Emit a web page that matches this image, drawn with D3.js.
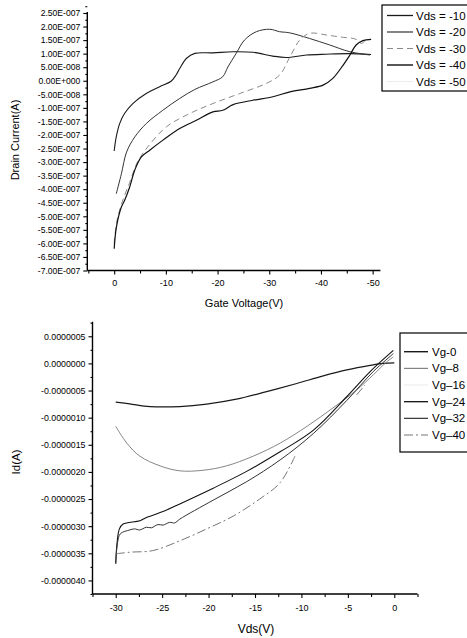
<!DOCTYPE html>
<html>
<head>
<meta charset="utf-8">
<script src="https://cdn.jsdelivr.net/npm/d3@7"></script>
<style>
body { margin: 0; background: #fff; }
svg { display: block; font-family: "Liberation Sans", Arial, sans-serif; }
</style>
</head>
<body>
<svg></svg>
<script>
// ---- data ----
// top panel: [gate voltage (V), drain current in 1e-7 A]
let vds10 = [[0,-2.59],[-0.4,-2.07],[-1.06,-1.58],[-2.0,-1.21],[-3.6,-0.84],[-6.2,-0.47],[-8.8,-0.22],[-11.0,-0.02],[-12.0,0.22],[-12.7,0.46],[-14.0,0.83],[-15.6,1.01],[-19.1,1.03],[-23,1.07],[-26.9,1.05],[-30.7,0.91],[-33.3,0.86],[-37.2,0.95],[-41,0.98],[-45.5,1.0],[-49.7,0.97]];
let vds20 = [[-0.4,-4.17],[-1.4,-3.43],[-2.4,-2.63],[-4.0,-2.07],[-6.2,-1.58],[-9.4,-1.09],[-12.7,-0.65],[-15.6,-0.32],[-19.1,-0.04],[-21.0,0.15],[-22,0.51],[-23.6,1.01],[-25.2,1.50],[-27.5,1.81],[-30.1,1.90],[-32,1.81],[-33.9,1.77],[-37.8,1.56],[-41.7,1.32],[-45.6,1.07],[-49.5,0.95]];
let vds30 = [[0,-6.0],[-0.5,-5.2],[-1.5,-4.5],[-3,-3.75],[-4.5,-3.0],[-6.5,-2.44],[-10.1,-1.70],[-14.6,-1.21],[-19.1,-0.84],[-24.3,-0.47],[-29.4,-0.10],[-32.0,0.21],[-34.0,0.88],[-35.9,1.50],[-37.8,1.75],[-41,1.69],[-43.5,1.62],[-46.8,1.53],[-47.8,1.38],[-48.8,1.5],[-49.7,1.53]];
let vds40 = [[0,-6.20],[-0.43,-5.40],[-1.39,-4.66],[-2.03,-4.41],[-3.0,-3.92],[-3.97,-3.30],[-5.26,-2.81],[-6.87,-2.56],[-9.44,-2.19],[-12.67,-1.76],[-15.9,-1.46],[-19.1,-1.15],[-21.0,-1.09],[-23.0,-0.88],[-26.8,-0.72],[-30.7,-0.59],[-34.0,-0.41],[-37.8,-0.28],[-40.4,-0.16],[-42.3,0.09],[-44.3,0.58],[-45.6,0.95],[-46.8,1.32],[-48.1,1.48],[-49.7,1.53]];
let vds50 = []; // not visible in the picture

// bottom panel: [Vds (V), Id in 1e-6 A], null = gap in the trace
let vg0 = [[-30,-0.714],[-28.5,-0.745],[-26.3,-0.795],[-23.1,-0.795],[-20.2,-0.751],[-17.0,-0.66],[-13.75,-0.52],[-10.5,-0.37],[-7.65,-0.23],[-5.1,-0.12],[-2.6,-0.037],[-1.2,0],[0,0.01]];
let vg8 = [[-30,-1.16],[-28.8,-1.47],[-27.4,-1.71],[-25.2,-1.89],[-23.1,-1.98],[-20.6,-1.97],[-18.1,-1.89],[-15.2,-1.71],[-12.3,-1.47],[-9.4,-1.16],[-6.6,-0.82],[-4.05,-0.49],[-2.26,-0.21],[-0.8,0.03],[-0.1,0.12]];
let vg16 = []; // not visible in the picture
let vg24 = [[-30,-3.69],[-29.85,-3.3],[-29.6,-3.05],[-29.2,-2.96],[-27.4,-2.90],[-26.7,-2.84],[-24.9,-2.73],[-23.1,-2.59],[-19.5,-2.30],[-15.9,-1.99],[-12.3,-1.63],[-8.7,-1.23],[-5.1,-0.61],[-2.6,-0.15],[-0.1,0.24]];
let vg32 = [[-30,-3.69],[-29.8,-3.3],[-29.5,-3.14],[-28.5,-3.07],[-27.97,-3.05],[-27.43,-3.07],[-26.7,-3.02],[-26.16,-3.03],[-25.45,-2.97],[-24.9,-2.98],[-24.2,-2.93],[-23.65,-2.94],[-23.1,-2.87],[-19.5,-2.52],[-15.9,-2.18],[-12.3,-1.78],[-8.7,-1.29],[-5.1,-0.68],[-2.26,-0.15],[-0.1,0.18]];
let vg40 = [[-30,-3.51],[-28.5,-3.48],[-26.0,-3.45],[-23.1,-3.27],[-20.2,-3.05],[-17.3,-2.81],[-14.5,-2.50],[-12.3,-2.20],[-10.7,-1.71],[-7,null],[-4.05,-0.58],[-3.16,-0.40]];

let topLegend = ["Vds = -10", "Vds = -20", "Vds = -30", "Vds = -40", "Vds = -50"];
let bottomLegend = ["Vg-0", "Vg\u20138", "Vg\u201316", "Vg\u201324", "Vg\u201332", "Vg\u201340"];
let gateTicks = [0, -10, -20, -30, -40, -50];
let gateMinor = [5, -5, -15, -25, -35, -45];
let vdsTicks = [-30, -25, -20, -15, -10, -5, 0];
let vdsMinor = [-32.5, -27.5, -22.5, -17.5, -12.5, -7.5, -2.5, 2.5];
let currentTicks = d3.range(-14, 6).map(k => k * 5e-8);   // -7E-7 .. 2.5E-7
let idTicks = d3.range(-8, 2).map(k => k * 5e-7);         // -4E-6 .. 5E-7

let width = 467;
let height = 638;
let font = "Liberation Sans, Arial, sans-serif";

let svg = d3.select("svg").attr("width", width).attr("height", height);

// line styles per series
let topStyles = [
    {color: "#1a1a1a", dash: null, w: 1.1},
    {color: "#333", dash: null, w: 1},
    {color: "#8a8a8a", dash: "6,4", w: 1},
    {color: "#111", dash: null, w: 1.2},
    {color: "#eeeeee", dash: null, w: 1}
];
let bottomStyles = [
    {color: "#1a1a1a", dash: null, w: 1.2},
    {color: "#777", dash: null, w: 0.9},
    {color: "#eeeeee", dash: null, w: 1},
    {color: "#111", dash: null, w: 1.1},
    {color: "#333", dash: null, w: 1},
    {color: "#777", dash: "9,3,2,3", w: 1}
];

let sciFormat = (v) => {
    if (Math.abs(v) < 1e-20) return "0.00E+000";
    let e = Math.floor(Math.log10(Math.abs(v)) + 1e-9);
    let m = (v / Math.pow(10, e)).toFixed(2);
    return m + "E" + (e < 0 ? "-" : "+") + String(Math.abs(e)).padStart(3, "0");
};

// ---- scales ----
let xTop = d3.scaleLinear().domain([5.2, -51.5]).range([87.3, 380.4]);
let yTop = d3.scaleLinear().domain([-7e-7, 2.5e-7]).range([270.5, 13]);
let xBot = d3.scaleLinear().domain([-32.5, 2.5]).range([92.5, 417.5]);
let yBot = d3.scaleLinear().domain([-4.25e-6, 7.5e-7]).range([594, 322.7]);

let styleAxis = (g, size) => {
    g.attr("font-family", font).attr("font-size", size);
    g.select(".domain").remove();
    g.selectAll("line").attr("stroke", "#000").attr("stroke-width", 1.1);
};

let drawAxes = (x, y, xMajor, xMinor, yMajor, yFormat, yLabelSize, xPad) => {
    let x0 = x.range()[0], x1 = x.range()[1];
    let y0 = y.range()[0], y1 = y.range()[1];

    svg.append("g")
        .attr("transform", "translate(0," + y0 + ")")
        .call(d3.axisBottom(x).tickValues(xMajor).tickSize(4).tickPadding(xPad).tickFormat(d => String(d)))
        .call(g => styleAxis(g, 9));
    svg.append("g")
        .attr("transform", "translate(0," + y0 + ")")
        .call(d3.axisBottom(x).tickValues(xMinor).tickSize(3).tickFormat(""))
        .call(g => styleAxis(g, 9));

    let yMinor = yMajor.slice(0, -1).map((v, i) => (v + yMajor[i + 1]) / 2);
    let step = yMajor[1] - yMajor[0];
    yMinor.push(yMajor[yMajor.length - 1] + step / 2);
    if (y.domain()[0] < yMajor[0] - step / 4) yMinor.unshift(yMajor[0] - step / 2);

    svg.append("g")
        .attr("transform", "translate(" + x0 + ",0)")
        .call(d3.axisLeft(y).tickValues(yMajor).tickSize(4).tickPadding(3).tickFormat(yFormat))
        .call(g => styleAxis(g, yLabelSize));
    svg.append("g")
        .attr("transform", "translate(" + x0 + ",0)")
        .call(d3.axisLeft(y).tickValues(yMinor).tickSize(2).tickFormat(""))
        .call(g => styleAxis(g, 9));

    svg.append("line").attr("x1", x0).attr("x2", x1).attr("y1", y0).attr("y2", y0)
        .attr("stroke", "#000").attr("stroke-width", 1.4);
    svg.append("line").attr("x1", x0).attr("x2", x0).attr("y1", y0).attr("y2", y1 - 1)
        .attr("stroke", "#000").attr("stroke-width", 1.4);
};

let drawCurves = (x, y, seriesList, styles, unit) => {
    let line = d3.line()
        .defined(d => d[1] !== null)
        .x(d => x(d[0]))
        .y(d => y(d[1] * unit))
        .curve(d3.curveCatmullRom.alpha(0.5));
    seriesList.forEach((data, i) => {
        if (data.length === 0) return;
        svg.append("path")
            .datum(data)
            .attr("d", line)
            .attr("fill", "none")
            .attr("stroke", styles[i].color)
            .attr("stroke-width", styles[i].w)
            .attr("stroke-dasharray", styles[i].dash)
            .attr("stroke-linejoin", "round");
    });
};

let drawLegend = (names, styles, bx, by, bh, lineX0, lineX1, textX, firstY, stepY) => {
    svg.append("rect")
        .attr("x", bx).attr("y", by).attr("width", width - bx + 10).attr("height", bh)
        .attr("fill", "#fff").attr("stroke", "#000").attr("stroke-width", 1.2);
    names.forEach((name, i) => {
        let cy = firstY + i * stepY;
        svg.append("line")
            .attr("x1", lineX0).attr("x2", lineX1).attr("y1", cy).attr("y2", cy)
            .attr("stroke", styles[i].color)
            .attr("stroke-width", styles[i].w + 0.2)
            .attr("stroke-dasharray", styles[i].dash);
        svg.append("text")
            .attr("x", textX).attr("y", cy + 4)
            .attr("font-family", font).attr("font-size", 11.5)
            .text(name);
    });
};

// ---- top panel ----
drawAxes(xTop, yTop, gateTicks, gateMinor, currentTicks, sciFormat, 8.6, 5);
drawCurves(xTop, yTop, [vds10, vds20, vds30, vds40, vds50], topStyles, 1e-7);
drawLegend(topLegend, topStyles, 382, 5, 86, 387, 413, 416, 15.5, 16.5);

svg.append("text")
    .attr("transform", "translate(19,140) rotate(-90)")
    .attr("text-anchor", "middle")
    .attr("font-family", font).attr("font-size", 11)
    .text("Drain Current(A)");
svg.append("text")
    .attr("x", 244).attr("y", 307)
    .attr("text-anchor", "middle")
    .attr("font-family", font).attr("font-size", 11)
    .text("Gate Voltage(V)");

// ---- bottom panel ----
drawAxes(xBot, yBot, vdsTicks, vdsMinor, idTicks, d => d.toFixed(7), 8.8, 7);
drawCurves(xBot, yBot, [vg0, vg8, vg16, vg24, vg32, vg40], bottomStyles, 1e-6);
drawLegend(bottomLegend, bottomStyles, 400, 333, 119, 404, 428, 432, 351.7, 16.66);

svg.append("text")
    .attr("transform", "translate(20,462) rotate(-90)")
    .attr("text-anchor", "middle")
    .attr("font-family", font).attr("font-size", 11.5)
    .text("Id(A)");
svg.append("text")
    .attr("x", 256).attr("y", 633)
    .attr("text-anchor", "middle")
    .attr("font-family", font).attr("font-size", 12)
    .text("Vds(V)");
</script>
</body>
</html>
